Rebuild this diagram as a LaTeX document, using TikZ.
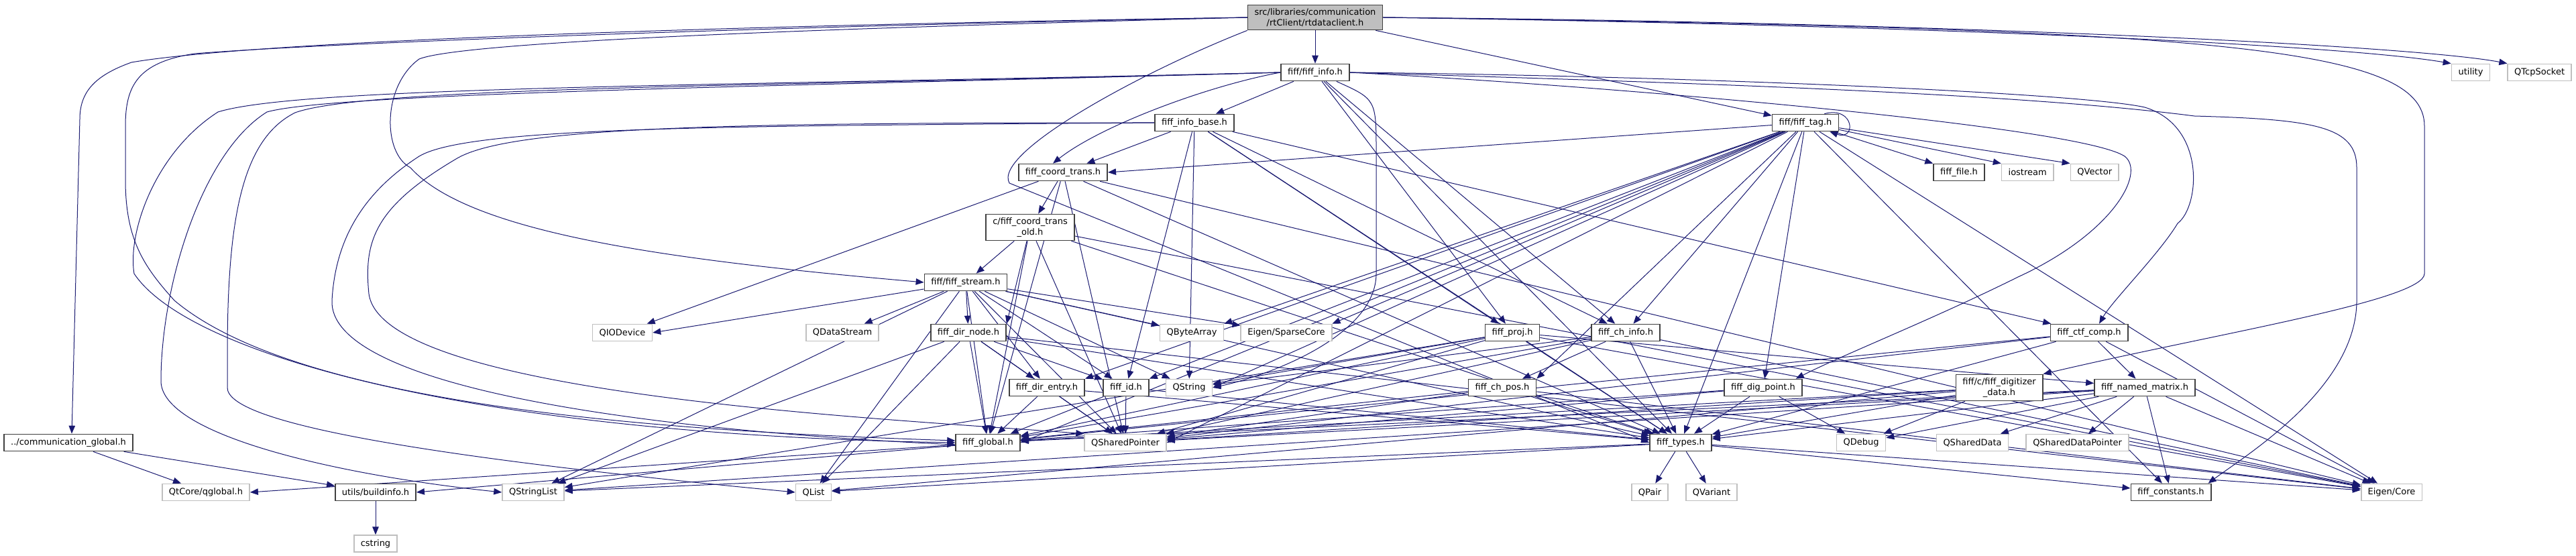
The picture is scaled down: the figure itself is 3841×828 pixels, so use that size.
\documentclass[tikz,border=0pt]{standalone}
\usepackage{fontspec}
\newfontfamily\dejavu{DejaVu Sans}
\usepackage{tikz}
\usetikzlibrary{arrows.meta,positioning,backgrounds}
\definecolor{edgeblue}{HTML}{191970}
\definecolor{extgray}{HTML}{BFBFBF}
\begin{document}
\begin{tikzpicture}[x=1pt, y=1pt, node distance=25pt,
      box/.style={draw=black!75, fill=white, line width=1.7pt, align=center, inner xsep=10pt, inner ysep=5pt,
        minimum height=25pt, font=\dejavu\fontsize{13pt}{16pt}\selectfont},
      ext/.style={box, draw=extgray},
      rootbox/.style={box, fill=extgray},
      arr/.style={-{Triangle[length=12pt,width=9.5pt]}, draw=edgeblue, line width=1pt}]
    \useasboundingbox (0,0) rectangle (3841,828);
    \node[rootbox] (rt) at (1961,802) {src/libraries/communication\\/rtClient/rtdataclient.h};
    \node[box] (info) at (1961,720) {fiff/fiff\_info.h};
    \node[ext] (utility) at (3684,720) {utility};
    \node[ext, right=of utility] (qtcp) {QTcpSocket};
    \node[box] (infobase) at (1781,645) {fiff\_info\_base.h};
    \node[box] (tag) at (2692,645) {fiff/fiff\_tag.h};
    \node[box] (ctrans) at (1585,571) {fiff\_coord\_trans.h};
    \node[box] (ffile) at (2921,571) {fiff\_file.h};
    \node[ext, right=24pt of ffile] (iostream) {iostream};
    \node[ext, right=24pt of iostream] (qvector) {QVector};
    \node[box] (ctold) at (1536,489) {c/fiff\_coord\_trans\\\_old.h};
    \node[box] (stream) at (1440,407) {fiff/fiff\_stream.h};
    \node[ext] (qiodev) at (928,332) {QIODevice};
    \node[ext] (qdstream) at (1256,332) {QDataStream};
    \node[box] (dirnode) at (1444,332) {fiff\_dir\_node.h};
    \node[ext] (qbytearr) at (1777,332) {QByteArray};
    \node[ext] (sparse) at (1918,332) {Eigen/SparseCore};
    \node[box] (proj) at (2255,332) {fiff\_proj.h};
    \node[box] (chinfo) at (2424,332) {fiff\_ch\_info.h};
    \node[box] (ctfcomp) at (3115,332) {fiff\_ctf\_comp.h};
    \node[box] (direntry) at (1561,250) {fiff\_dir\_entry.h};
    \node[box] (fid) at (1679,250) {fiff\_id.h};
    \node[ext] (qstring) at (1773,250) {QString};
    \node[box] (chpos) at (2240,250) {fiff\_ch\_pos.h};
    \node[box] (digpoint) at (2629,250) {fiff\_dig\_point.h};
    \node[box] (digdata) at (2981,250) {fiff/c/fiff\_digitizer\\\_data.h};
    \node[box] (namedmat) at (3198,250) {fiff\_named\_matrix.h};
    \node[box] (comglob) at (102,168) {../communication\_global.h};
    \node[box] (fglobal) at (1473,168) {fiff\_global.h};
    \node[ext] (qsptr) at (1678,168) {QSharedPointer};
    \node[box] (ftypes) at (2506,168) {fiff\_types.h};
    \node[ext] (qdebug) at (2775,168) {QDebug};
    \node[ext] (qsdata) at (2941,168) {QSharedData};
    \node[ext, right=of qsdata] (qsdptr) {QSharedDataPointer};
    \node[ext] (qglobal) at (307,94) {QtCore/qglobal.h};
    \node[box] (buildinfo) at (560,94) {utils/buildinfo.h};
    \node[ext] (qslist) at (795,94) {QStringList};
    \node[ext] (qlist) at (1213,94) {QList};
    \node[ext] (qpair) at (2460,94) {QPair};
    \node[ext, right=of qpair] (qvariant) {QVariant};
    \node[box] (fconst) at (3237,94) {fiff\_constants.h};
    \node[ext] (eigcore) at (3566,94) {Eigen/Core};
    \node[ext, below=50pt of buildinfo] (cstring) {cstring};
    \begin{scope}[on background layer]
    \draw[arr] (rt) -- (info);
    \draw[arr] (rt) -- (tag);
    \draw[arr] (rt.east) .. controls (2900,790) and (3500,760) .. (utility.north west);
    \draw[arr] (rt.east) .. controls (2900,795) and (3600,760) .. (qtcp.north west);
    \draw[arr] (rt.west) .. controls (1200,792) and (400,770) .. (196,735) .. controls (140,715) and (119,690) .. (119,650) -- ([xshift=5pt]comglob.north);
    \draw[arr] (rt.west) .. controls (1200,790) and (500,765) .. (290,748) .. controls (205,735) and (187,700) .. (187,640) -- (187,560) .. controls (187,470) and (215,430) .. (260,380) .. controls (450,220) and (1000,185) .. ([yshift=3pt]fglobal.west);
    \draw[arr] (rt.west) .. controls (1400,790) and (700,770) .. (625,740) .. controls (570,700) and (570,600) .. (612,578) .. controls (700,480) and (1000,440) .. (stream.west);
    \draw[arr] (rt.south west) .. controls (1700,720) and (1480,600) .. (1505,555) -- (ftypes.west);
    \draw[arr] (rt.east) .. controls (3300,785) and (3615,760) .. (3615,640) -- (3615,420) .. controls (3615,380) and (3300,330) .. (digdata.north east);
    \draw[arr] (info) -- (infobase);
    \draw[arr] (info.west) .. controls (1800,700) and (1640,640) .. ([xshift=-15pt]ctrans.north);
    \draw[arr] (info) -- (proj);
    \draw[arr] (info) -- (chinfo);
    \draw[arr] ([xshift=-20pt]info.south east) .. controls (2052,680) .. (2052,600) -- (2052,420) .. controls (2052,330) and (1900,270) .. (qstring.east);
    \draw[arr] (info) -- (ftypes);
    \draw[arr] (info.west) .. controls (1100,700) and (450,700) .. (325,661) .. controls (230,600) and (190,480) .. (200,420) .. controls (280,300) and (700,180) .. (fglobal.west);
    \draw[arr] (info.west) .. controls (1200,700) and (500,690) .. (398,661) .. controls (300,600) and (240,400) .. (240,260) .. controls (240,180) and (500,120) .. (qslist.west);
    \draw[arr] (info.west) .. controls (1200,700) and (550,700) .. (440,660) .. controls (360,620) and (339,500) .. (339,300) -- (339,250) .. controls (339,200) and (600,150) .. (qlist.west);
    \draw[arr] (info.east) .. controls (2500,715) and (3100,690) .. (3198,668) .. controls (3290,640) and (3280,520) .. (3247,495) .. controls (3220,450) and (3150,380) .. ([xshift=15pt]ctfcomp.north);
    \draw[arr] (info.east) .. controls (2400,700) and (3100,640) .. (3168,595) .. controls (3200,570) and (3150,480) .. (3009,415) .. controls (2880,351) and (2750,300) .. ([xshift=-10pt]digpoint.north east);
    \draw[arr] (info.east) .. controls (2500,705) and (3000,690) .. (3272,655) .. controls (3450,650) and (3514,640) .. (3514,578) -- (3514,380) .. controls (3514,250) and (3350,150) .. ([xshift=-5pt]fconst.north east);
    \draw[arr] (infobase) -- (ctrans);
    \draw[arr] (infobase) -- (proj);
    \draw[arr] (infobase) -- (chinfo);
    \draw[arr] (infobase) -- (fid);
    \draw[arr] (infobase) -- (ctfcomp);
    \draw[arr] (infobase) -- (ftypes);
    \draw[arr] (infobase) -- (qstring);
    \draw[arr] (infobase.west) .. controls (1100,640) and (700,640) .. (625,595) .. controls (540,540) and (500,470) .. (495,380) .. controls (490,260) and (900,190) .. ([yshift=-3pt]fglobal.west);
    \draw[arr] (infobase.west) .. controls (1100,645) and (760,640) .. (680,591) .. controls (560,520) and (542,470) .. (550,390) .. controls (570,240) and (1300,205) .. (qsptr.north west);
    \draw[arr] (tag) -- (ctrans.east);
    \draw[arr] (tag) -- (ffile.north west);
    \draw[arr] (tag) -- (iostream.north west);
    \draw[arr] (tag) -- (qvector.north west);
    \draw[arr] ([xshift=-22pt]tag.north east) .. controls +(45,12) and +(40,-14) .. ([xshift=-14pt]tag.south east);
    \draw[arr] (tag) -- (chinfo);
    \draw[arr] (tag) -- (chpos.north east);
    \draw[arr] (tag) -- (digpoint);
    \draw[arr] (tag) -- (direntry.north east);
    \draw[arr] (tag) -- (fid.north east);
    \draw[arr] (tag) -- (qbytearr.north east);
    \draw[arr] (tag) -- (sparse.north east);
    \draw[arr] (tag) -- (fglobal.east);
    \draw[arr] (tag) -- (qsptr.east);
    \draw[arr] (tag) -- (ftypes);
    \draw[arr] (tag) -- (fconst);
    \draw[arr] (tag) -- (eigcore);
    \draw[arr] (tag) -- (qstring.east);
    \draw[arr] (ctrans) -- (ctold);
    \draw[arr] (ctrans) -- (qiodev);
    \draw[arr] (ctrans) -- (fglobal);
    \draw[arr] (ctrans) -- (qsptr);
    \draw[arr] (ctrans) -- (ftypes);
    \draw[arr] (ctrans) -- (eigcore);
    \draw[arr] (ctold) -- (stream);
    \draw[arr] (ctold) -- (dirnode.north east);
    \draw[arr] (ctold) -- (fglobal);
    \draw[arr] (ctold) -- (qsptr);
    \draw[arr] (ctold) -- (ftypes);
    \draw[arr] (ctold) -- (eigcore);
    \draw[arr] (stream) -- (qiodev.east);
    \draw[arr] (stream) -- (qdstream);
    \draw[arr] (stream) -- (dirnode);
    \draw[arr] (stream) -- (qbytearr);
    \draw[arr] (stream) -- (sparse);
    \draw[arr] (stream) -- (direntry);
    \draw[arr] (stream) -- (fid);
    \draw[arr] (stream) -- (qstring);
    \draw[arr] (stream) -- (qlist);
    \draw[arr] (stream) -- (qslist);
    \draw[arr] (stream) -- (fglobal);
    \draw[arr] (stream) -- (qsptr);
    \draw[arr] (stream) -- (ftypes);
    \draw[arr] (dirnode) -- (direntry);
    \draw[arr] (dirnode) -- (fid);
    \draw[arr] (dirnode) -- (fglobal);
    \draw[arr] (dirnode) -- (qsptr);
    \draw[arr] (dirnode) -- (qlist);
    \draw[arr] (dirnode) -- (qslist);
    \draw[arr] (dirnode) -- (ftypes);
    \draw[arr] (dirnode) -- (eigcore);
    \draw[arr] (direntry) -- (fglobal);
    \draw[arr] (direntry) -- (qsptr);
    \draw[arr] (direntry) -- (ftypes);
    \draw[arr] (fid) -- (fglobal);
    \draw[arr] (fid) -- (qsptr);
    \draw[arr] (fid) -- (ftypes);
    \draw[arr] (proj) -- (namedmat);
    \draw[arr] (proj) -- (fglobal);
    \draw[arr] (proj) -- (qsptr);
    \draw[arr] (proj) -- (ftypes);
    \draw[arr] (proj) -- (qstring);
    \draw[arr] (proj) -- (eigcore);
    \draw[arr] (proj) -- (qslist);
    \draw[arr] (chinfo) -- (chpos);
    \draw[arr] (chinfo) -- (fglobal);
    \draw[arr] (chinfo) -- (qsptr);
    \draw[arr] (chinfo) -- (ftypes);
    \draw[arr] (chinfo) -- (qstring);
    \draw[arr] (chinfo) -- (eigcore);
    \draw[arr] (ctfcomp) -- (namedmat);
    \draw[arr] (ctfcomp) -- (fglobal);
    \draw[arr] (ctfcomp) -- (qsptr);
    \draw[arr] (ctfcomp) -- (ftypes);
    \draw[arr] (ctfcomp) -- (eigcore);
    \draw[arr] (chpos) -- (fglobal);
    \draw[arr] (chpos) -- (qsptr);
    \draw[arr] (chpos) -- (ftypes);
    \draw[arr] (chpos) -- (eigcore);
    \draw[arr] (digpoint) -- (fglobal);
    \draw[arr] (digpoint) -- (qsptr);
    \draw[arr] (digpoint) -- (ftypes);
    \draw[arr] (digpoint) -- (qdebug);
    \draw[arr] (digdata) -- (fglobal);
    \draw[arr] (digdata) -- (qsptr);
    \draw[arr] (digdata) -- (ftypes);
    \draw[arr] (digdata) -- (qdebug);
    \draw[arr] (digdata) -- (qlist);
    \draw[arr] (namedmat) -- (qsdata);
    \draw[arr] (namedmat) -- (qsdptr);
    \draw[arr] (namedmat) -- (fconst);
    \draw[arr] (namedmat) -- (eigcore);
    \draw[arr] (namedmat) -- (fglobal);
    \draw[arr] (namedmat) -- (qsptr);
    \draw[arr] (namedmat) -- (ftypes);
    \draw[arr] (namedmat) -- (qdebug);
    \draw[arr] (namedmat) -- (qslist);
    \draw[arr] (ftypes) -- (qpair);
    \draw[arr] (ftypes) -- (qvariant);
    \draw[arr] (ftypes) -- (fconst);
    \draw[arr] (ftypes) -- (eigcore);
    \draw[arr] (ftypes) -- (qlist);
    \draw[arr] (ftypes) -- (qslist);
    \draw[arr] (fglobal) -- (qglobal.east);
    \draw[arr] (fglobal) -- (buildinfo.east);
    \draw[arr] (comglob) -- (qglobal);
    \draw[arr] (comglob) -- (buildinfo);
    \draw[arr] (buildinfo) -- (cstring);
    \end{scope}
  \end{tikzpicture}
\end{document}
